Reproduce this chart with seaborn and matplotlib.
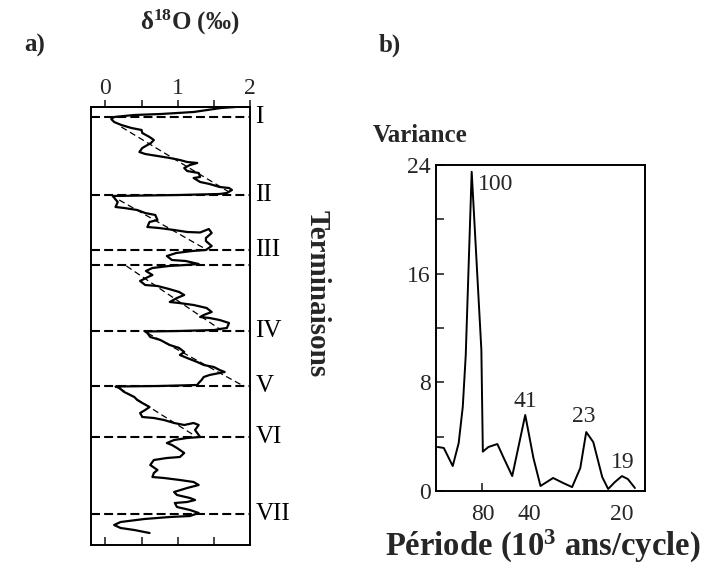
import matplotlib
matplotlib.use("Agg")
import matplotlib.pyplot as plt
import matplotlib.transforms as mtransforms
import seaborn as sns

# ---------------- Panel a : delta18O record ----------------
d18o = [1.80, 1.60, 1.22, 0.77, 0.40, 0.12, 0.08, 0.12, 0.22, 0.36, 0.50, 0.51, 0.61, 0.67,
        0.63, 0.51, 0.47, 0.55, 0.72, 0.89, 1.03, 1.13, 1.27, 1.17, 1.09, 1.13, 1.29, 1.31,
        1.22, 1.31, 1.44, 1.58, 1.71, 1.75, 1.68, 1.58, 1.02, 0.10,
        0.17, 0.14, 0.26, 0.44, 0.55, 0.69, 0.72, 0.61, 0.58, 0.74, 0.95, 1.13, 1.31, 1.43,
        1.47, 1.39, 1.39, 1.47, 1.39, 1.20, 0.98, 0.85, 0.92, 1.11, 1.29, 1.11, 0.88, 0.65,
        0.56, 0.65, 0.56, 0.48, 0.55, 0.72, 0.88, 1.02, 1.09, 0.99, 0.89, 1.02, 1.22, 1.40,
        1.47, 1.36, 1.31, 1.44, 1.58, 1.71, 1.68, 1.58, 1.51, 1.02, 0.55,
        0.58, 0.62, 0.76, 0.89, 1.02, 1.09, 1.03, 1.13, 1.27, 1.36, 1.50, 1.58, 1.65, 1.58,
        1.44, 1.36, 1.33, 1.29, 1.27, 0.74, 0.14,
        0.19, 0.26, 0.40, 0.44, 0.51, 0.61, 0.55, 0.48, 0.51, 0.67, 0.81, 0.95, 1.09, 1.22,
        1.29, 1.24, 1.27, 1.31, 1.13, 0.95, 0.85, 0.92, 0.99, 1.09, 1.03, 0.85, 0.67, 0.62,
        0.72, 0.67, 0.65, 0.81, 1.03, 1.22, 1.29, 1.13, 0.95, 0.99, 1.17, 1.24, 1.13, 0.96,
        0.99, 1.17, 1.29, 1.17, 0.89, 0.54, 0.21, 0.12, 0.21, 0.40, 0.61]
age = [0, 2, 10, 14, 16, 20, 24, 30, 36, 42, 46, 52, 60, 66,
       72, 82, 90, 94, 98, 102, 106, 110, 112, 116, 122, 128, 132, 140,
       142, 150, 154, 160, 162, 166, 172, 174, 176, 178,
       190, 200, 202, 206, 212, 216, 226, 230, 240, 242, 246, 250, 251, 244,
       252, 262, 268, 278, 286, 288, 292, 298, 306, 308, 314, 316, 318, 322,
       328, 336, 342, 348, 356, 358, 364, 370, 376, 382, 390, 392, 396, 402,
       410, 416, 420, 422, 426, 432, 442, 444, 446, 448, 449,
       452, 460, 466, 476, 482, 490, 496, 502, 510, 516, 520, 526, 530, 532,
       536, 540, 546, 552, 556, 558, 559,
       562, 570, 580, 586, 592, 600, 606, 612, 620, 622, 626, 632, 636, 632,
       636, 646, 652, 660, 662, 666, 672, 676, 682, 692, 700, 702, 706, 716,
       726, 732, 740, 742, 746, 750, 756, 762, 770, 776, 782, 786, 790, 792,
       800, 806, 812, 818, 820, 824, 830, 836, 842, 846, 852]

term_labels = ["I", "II", "III", "IV", "V", "VI", "VII"]
term_age = [20, 176, 286, 448, 558, 660, 814]
extra_line_age = [316]

# thin dashed trend lines within glacial cycles
trend_x0 = [0.22, 0.19, 0.29, 0.58, 0.19]
trend_a0 = [40, 186, 318, 452, 562]
trend_x1 = [1.71, 1.36, 1.60, 1.91, 1.22]
trend_a1 = [170, 282, 446, 558, 656]

d18o_ticks = [0, 1, 2]

# ---------------- Panel b : variance spectrum ----------------
freq = [0.0005, 0.0021, 0.0045, 0.0061, 0.0072, 0.0080, 0.0096, 0.0122, 0.0126, 0.0141,
        0.0165, 0.0181, 0.0205, 0.0240, 0.0262, 0.0281, 0.0315, 0.0342, 0.0366, 0.0388,
        0.0404, 0.0423, 0.0447, 0.0463, 0.0481, 0.0500, 0.0516, 0.0535]
variance = [3.24, 3.17, 1.84, 3.53, 6.19, 10.0, 23.5, 10.4, 2.9, 3.24,
            3.46, 2.5, 1.1, 5.6, 2.43, 0.37, 0.96, 0.59, 0.29, 1.69,
            4.34, 3.6, 1.03, 0.15, 0.66, 1.1, 0.88, 0.22]
peak_labels = ["100", "41", "23", "19"]
peak_freq = [0.0096, 0.0240, 0.0404, 0.0500]
peak_var = [23.5, 5.6, 4.34, 1.1]
peak_offsets = [(17, -9), (0, 9.5), (-1.5, 11), (0.5, 10)]
period_ticks = [80, 40, 20]
var_ticks = [0, 8, 16, 24]
var_minor = [4, 12, 20]

# ---------------- styling ----------------
sns.set_theme(style="ticks")
plt.rcParams["font.family"] = ["Liberation Serif", "DejaVu Serif"]
plt.rcParams["mathtext.fontset"] = "custom"
plt.rcParams["mathtext.rm"] = "Liberation Serif"
plt.rcParams["mathtext.bf"] = "Liberation Serif:bold"
plt.rcParams["mathtext.it"] = "Liberation Serif:italic"
plt.rcParams["axes.linewidth"] = 1.4
plt.rcParams["axes.edgecolor"] = "black"

fig = plt.figure(figsize=(7.08, 5.67), dpi=100)

# ---- panel a ----
axa = fig.add_axes([0.1285, 0.0388, 0.2246, 0.7725])
sns.lineplot(x=d18o, y=age, sort=False, estimator=None, color="black",
             lw=1.6, ax=axa)
for t in term_age + extra_line_age:
    axa.axhline(t, color="black", lw=1.5, ls=(0, (4.3, 2.0)), zorder=1)
for x0, a0, x1, a1 in zip(trend_x0, trend_a0, trend_x1, trend_a1):
    sns.lineplot(x=[x0, x1], y=[a0, a1], sort=False, estimator=None,
                 color="black", lw=0.9, ls=(0, (5, 3)), ax=axa)
axa.set_xlim(-0.2, 2.0)
axa.set_ylim(876, 0)
axa.set_yticks([])
axa.set_xticks([0, 0.5, 1, 1.5])
axa.tick_params(axis="x", direction="in", length=6, width=1.2,
                labelbottom=False, bottom=True, top=False)
axa.set_xlabel("")
axa.set_ylabel("")
sec = axa.secondary_xaxis("top")
sec.set_xticks(d18o_ticks)
sec.set_xticklabels([str(v) for v in d18o_ticks])
sec.set_xticks([0.5, 1.5], minor=True)
sec.tick_params(which="both", direction="out", length=5, width=1.2,
                labelsize=17, pad=1)

tr = mtransforms.blended_transform_factory(axa.transAxes, axa.transData)
for lab, a in zip(term_labels, term_age):
    axa.text(1.035, a, lab, transform=tr, ha="left", va="center",
             fontsize=18, color="black")

fig.text(35 / 708, 1 - 45 / 567, "a)", fontsize=18, fontweight="bold",
         ha="center", va="center")
fig.text(190 / 708, 1 - 22 / 567, r"δ$^{\mathbf{18}}$O (‰)", fontsize=18,
         fontweight="bold", ha="center", va="center")
fig.text(317 / 708, 1 - 294 / 567, "Terminaisons", fontsize=21,
         fontweight="bold", rotation=270, ha="center", va="center")

# ---- panel b ----
axb = fig.add_axes([0.6158, 0.134, 0.2952, 0.575])
sns.lineplot(x=freq, y=variance, sort=False, estimator=None, color="black",
             lw=1.4, ax=axb)
axb.set_xlim(0, 0.0562)
axb.set_ylim(0, 24)
axb.set_yticks(var_ticks)
axb.set_yticks(var_minor, minor=True)
axb.set_xticks([1 / p for p in period_ticks])
axb.set_xticklabels([str(p) for p in period_ticks])
axb.tick_params(axis="both", which="both", direction="in", length=6,
                width=1.2, labelsize=17, pad=4)
axb.tick_params(axis="x", pad=9)
for i, tk in enumerate(axb.xaxis.get_major_ticks()):
    if i > 0:
        tk.tick1line.set_visible(False)
axb.set_xlabel("")
axb.set_ylabel("")
for lab, f, v, off in zip(peak_labels, peak_freq, peak_var, peak_offsets):
    axb.annotate(lab, xy=(f, v), xytext=off, textcoords="offset points",
                 ha="center", va="center", fontsize=17)

fig.text(390 / 708, 1 - 45 / 567, "b)", fontsize=18, fontweight="bold",
         ha="center", va="center")
fig.text(420 / 708, 1 - 135 / 567, "Variance", fontsize=18, fontweight="bold",
         ha="center", va="center")
fig.text(543 / 708, 1 - 556 / 567, r"Période (10$^{\mathbf{3}}$ ans/cycle)",
         fontsize=23.5, fontweight="bold", ha="center", va="baseline")

fig.savefig("out.png", dpi=100)
